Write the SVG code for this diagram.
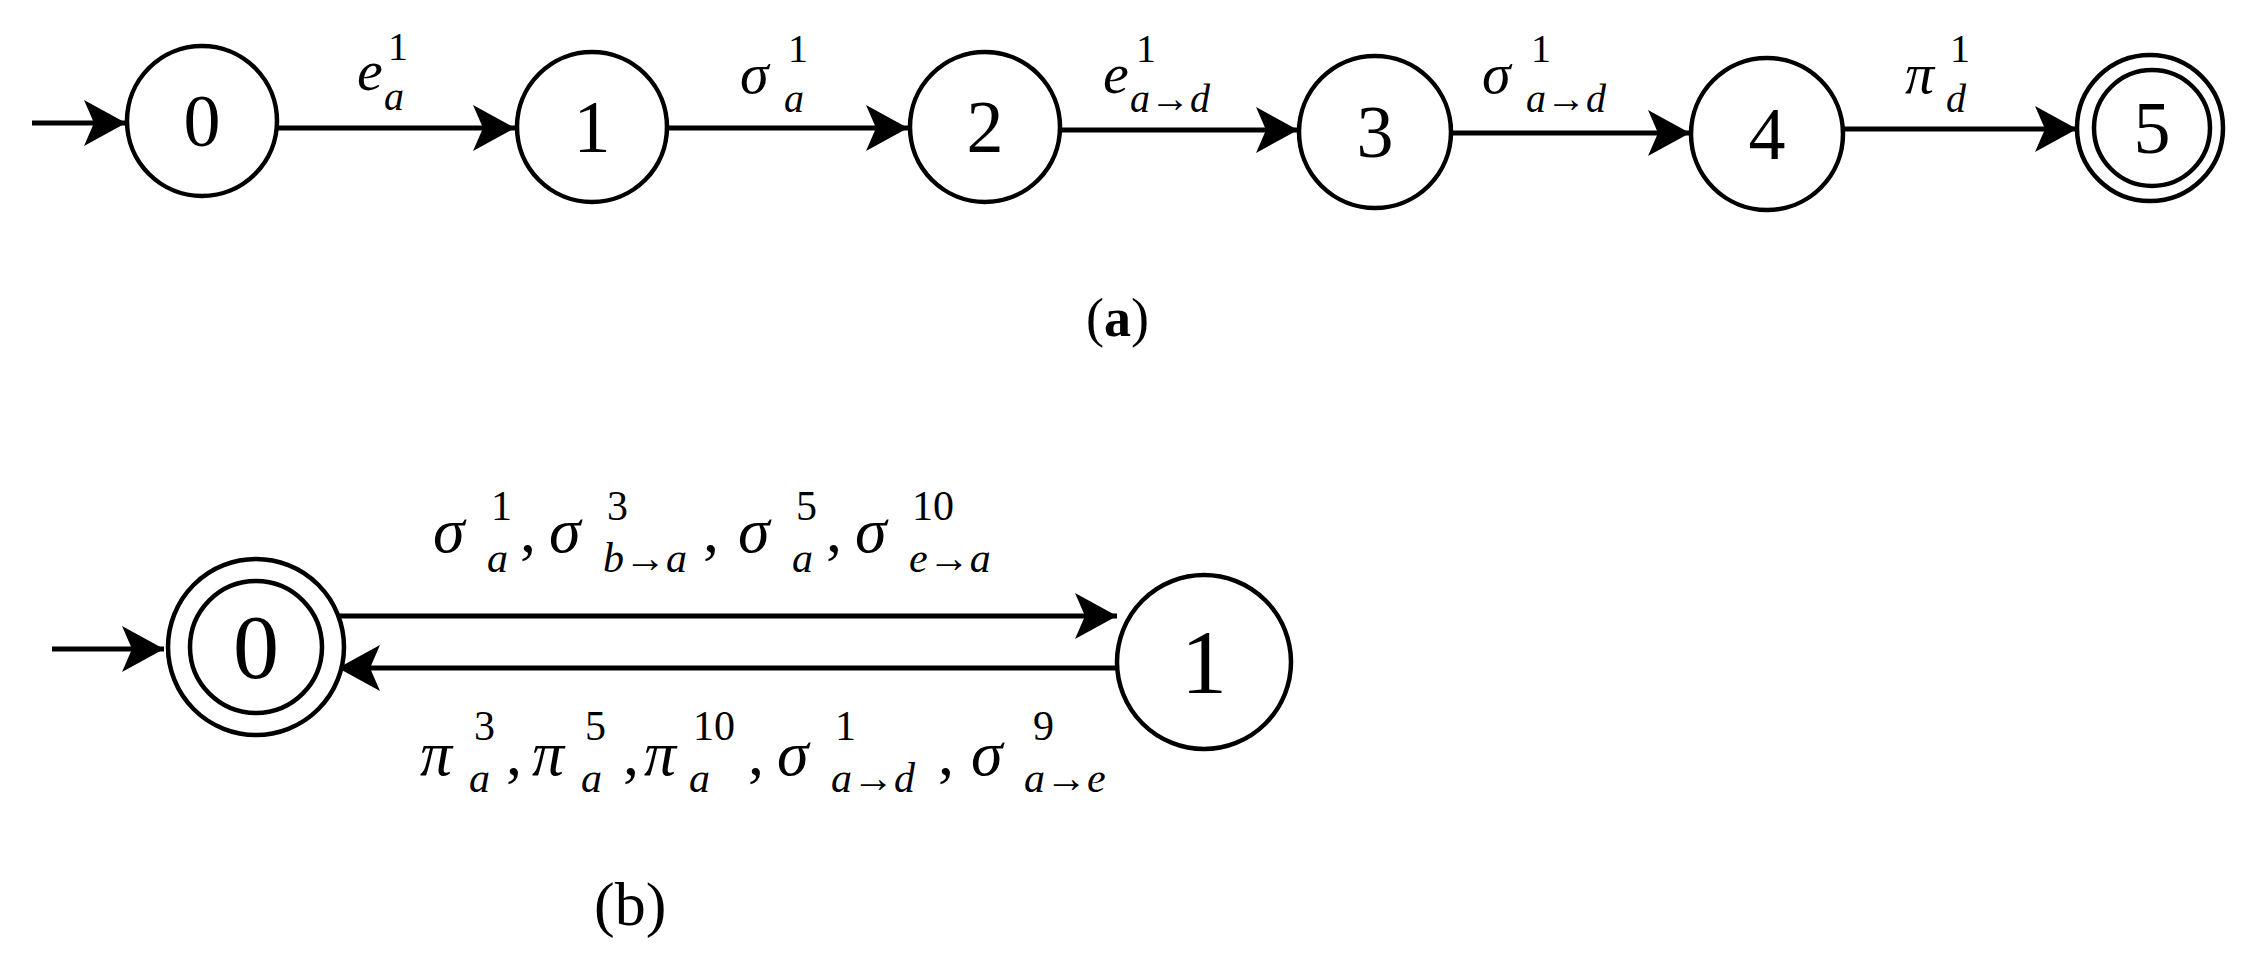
<svg xmlns="http://www.w3.org/2000/svg" width="2250" height="953" viewBox="0 0 2250 953">
<defs>
<style>
.n{fill:#fff;stroke:#000;stroke-width:4.5}
.e{fill:none;stroke:#000;stroke-width:5;marker-end:url(#ah)}
.d{font-family:"Liberation Serif",serif;text-anchor:middle;fill:#000}
.m{font-family:"Liberation Serif",serif;font-style:italic;fill:#000}
.s{font-family:"Liberation Serif",serif;fill:#000}
.a{font-size:58px}
.b{font-size:40px}
.c{font-size:40px}
.B{font-size:64px}
.C{font-size:42px}
</style>
<marker id="ah" markerUnits="userSpaceOnUse" viewBox="-44 -26 46 52" refX="0" refY="0" markerWidth="46" markerHeight="52" orient="auto">
<path d="M0,0 L-42,-23 L-32,0 L-42,23 Z" fill="#000"/>
</marker>
</defs>
<rect width="2250" height="953" fill="#fff"/>
<g id="connectors">
<line class="e" x1="32" y1="123" x2="126" y2="123"/>
<line class="e" x1="277" y1="128" x2="515" y2="128"/>
<line class="e" x1="667" y1="128" x2="908" y2="128"/>
<line class="e" x1="1060" y1="130" x2="1298" y2="130"/>
<line class="e" x1="1451" y1="133" x2="1690" y2="133"/>
<line class="e" x1="1843" y1="129" x2="2077" y2="129"/>
<line class="e" x1="52" y1="649" x2="164" y2="649"/>
<line class="e" x1="336" y1="616" x2="1117" y2="616"/>
<line class="e" x1="1117" y1="668" x2="338" y2="668"/>
</g>
<g id="labels-a">
<text class="m a" x="357" y="90">e</text><text class="m c" x="384" y="110">a</text><text class="s b" x="388" y="60">1</text>
<text class="m a" x="740" y="93">σ</text><text class="m c" x="784" y="112">a</text><text class="s b" x="788" y="62">1</text>
<text class="m a" x="1103" y="93">e</text><text class="m c" x="1130" y="112">a→d</text><text class="s b" x="1136" y="62">1</text>
<text class="m a" x="1482" y="93">σ</text><text class="m c" x="1526" y="112">a→d</text><text class="s b" x="1531" y="62">1</text>
<text class="m a" x="1905" y="93">π</text><text class="m c" x="1946" y="112">d</text><text class="s b" x="1950" y="62">1</text>
<text class="s" font-size="54" x="1086" y="336">(<tspan font-weight="bold">a</tspan>)</text>
</g>
<g id="n0"><circle class="n" cx="202" cy="121" r="75"/><text class="d" font-size="74" x="202" y="146">0</text></g>
<g id="n1"><circle class="n" cx="592" cy="127" r="75"/><text class="d" font-size="74" x="592" y="152">1</text></g>
<g id="n2"><circle class="n" cx="985" cy="127" r="75"/><text class="d" font-size="74" x="985" y="152">2</text></g>
<g id="n3"><circle class="n" cx="1375" cy="132" r="76"/><text class="d" font-size="74" x="1375" y="157">3</text></g>
<g id="n4"><circle class="n" cx="1767" cy="134" r="76"/><text class="d" font-size="74" x="1767" y="159">4</text></g>
<g id="n5"><circle class="n" cx="2150" cy="128" r="73"/><circle class="n" cx="2152" cy="128" r="58"/><text class="d" font-size="74" x="2152" y="153">5</text></g>
<g id="labels-b">
<text class="m B" x="433" y="552">σ</text><text class="m C" x="487" y="572">a</text><text class="s C" x="491" y="520">1</text><text class="s B" x="520" y="552">,</text>
<text class="m B" x="549" y="552">σ</text><text class="m C" x="603" y="572">b→a</text><text class="s C" x="607" y="520">3</text><text class="s B" x="703" y="552">,</text>
<text class="m B" x="738" y="552">σ</text><text class="m C" x="792" y="572">a</text><text class="s C" x="796" y="520">5</text><text class="s B" x="826" y="552">,</text>
<text class="m B" x="855" y="552">σ</text><text class="m C" x="909" y="572">e→a</text><text class="s C" x="912" y="520">10</text>
<text class="m B" x="420" y="775">π</text><text class="m C" x="469" y="792">a</text><text class="s C" x="474" y="740">3</text><text class="s B" x="506" y="775">,</text>
<text class="m B" x="532" y="775">π</text><text class="m C" x="581" y="792">a</text><text class="s C" x="585" y="740">5</text><text class="s B" x="623" y="775">,</text>
<text class="m B" x="644" y="775">π</text><text class="m C" x="689" y="792">a</text><text class="s C" x="693" y="740">10</text><text class="s B" x="748" y="775">,</text>
<text class="m B" x="777" y="775">σ</text><text class="m C" x="831" y="792">a→d</text><text class="s C" x="835" y="740">1</text><text class="s B" x="938" y="775">,</text>
<text class="m B" x="971" y="775">σ</text><text class="m C" x="1024" y="792">a→e</text><text class="s C" x="1033" y="740">9</text>
<text class="s" font-size="62" x="594" y="925">(b)</text>
</g>
<g id="b0"><circle class="n" cx="256" cy="647" r="88"/><circle class="n" cx="256" cy="647" r="66"/><text class="d" font-size="92" x="256" y="678">0</text></g>
<g id="b1"><circle class="n" cx="1204" cy="662" r="87"/><text class="d" font-size="92" x="1204" y="693">1</text></g>
</svg>
